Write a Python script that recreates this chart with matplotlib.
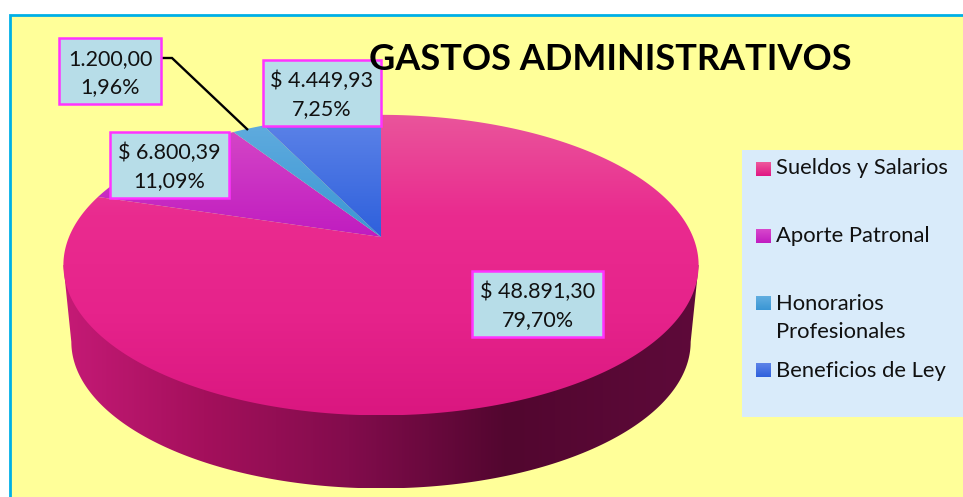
import numpy as np
import matplotlib
matplotlib.use("Agg")
import matplotlib.pyplot as plt
from matplotlib.patches import Polygon, Rectangle
from matplotlib.colors import LinearSegmentedColormap

# ---- data ----
categories = ["Sueldos y Salarios", "Aporte Patronal", "Honorarios\nProfesionales", "Beneficios de Ley"]
values = [48891.30, 6800.39, 1200.00, 4449.93]
value_labels = ["$ 48.891,30", "$ 6.800,39", "1.200,00", "$ 4.449,93"]
percent_labels = ["79,70%", "11,09%", "1,96%", "7,25%"]
title = "GASTOS ADMINISTRATIVOS"

# ---- styles ----
slice_grads = [["#e9559b", "#ea2b8f", "#e6238b", "#da1780"],
               ["#d445c6", "#c01cc0"],
               ["#5fabde", "#3a96d4"],
               ["#5e84e8", "#2e60dc"]]
swatch_grads = [["#ee5a9c", "#e01584"], ["#d848cc", "#c01cc0"],
                ["#62aee0", "#3a96d4"], ["#5e84e8", "#2e60dc"]]
side_stops = [(0.0, "#c51a76"), (0.22, "#a4105c"), (0.45, "#820c4c"),
              (0.70, "#52062f"), (1.0, "#5e0a3a")]
label_boxes = [(472, 271, 603, 337), (110, 132, 229, 198), (59, 38, 161, 104), (263, 60, 381, 126)]
legend_rows = [(168, 169), (236, 236), (317.5, 303), (371, 370)]

W, H = 963, 497
fig = plt.figure(figsize=(W / 100, H / 100), dpi=100, facecolor="white")
ax = fig.add_axes([0, 0, 1, 1])
ax.axis("off")

FONT = "Lato"
k, a, b = 0.187, 312.0, 145.0
cx, cy = 381.0, 237.0


def project(theta, scale=1.0, dy=0.0):
    """theta measured clockwise from 12 o'clock on the disc."""
    u, v = np.sin(theta), np.cos(theta)
    d = 1 + k * v
    return cx + scale * a * u / d, cy + dy - scale * b * v / d


def grad_fill(verts, colors, horizontal=False, z=2):
    xs, ys = np.asarray(verts).T
    extent = (xs.min(), xs.max(), ys.max(), ys.min())
    cmap = LinearSegmentedColormap.from_list("g", colors)
    g = np.linspace(0, 1, 256)
    g = g[None, :] if horizontal else g[:, None]
    im = ax.imshow(g, cmap=cmap, extent=extent, aspect="auto", zorder=z,
                   origin="upper", interpolation="bilinear", vmin=0, vmax=1)
    p = Polygon(verts, closed=True, transform=ax.transData, fc="none", ec="none")
    ax.add_patch(p)
    im.set_clip_path(p)


# background
ax.add_patch(Rectangle((10, 15), W, H, fc="#ffff99", ec="#00b0e6", lw=2.0, zorder=1))

# pie side
s2, dy2 = 0.975, 77.5
t_ext = np.arccos(-k)                     # angle at widest point of the rim
tt = np.linspace(t_ext, 2 * np.pi - t_ext, 300)
bx, by = project(tt, s2, dy2)
rx0, ry0 = project(t_ext)
lx0, ly0 = project(2 * np.pi - t_ext)
side = list(zip(bx, by)) + [(lx0, ly0), (rx0, ry0)]
grad_fill(side, side_stops, horizontal=True, z=2)

# pie top, slices clockwise from 12 o'clock
fractions = np.array(values) / np.sum(values)
edges = np.concatenate([[0], np.cumsum(fractions)]) * 2 * np.pi
for i in range(len(values)):
    t = np.linspace(edges[i], edges[i + 1], max(int(fractions[i] * 400), 6))
    x, y = project(t)
    verts = [(cx, cy)] + list(zip(x, y))
    grad_fill(verts, slice_grads[i], z=3)

# leader line
ax.plot([162, 172, 248], [58, 58, 130], color="black", lw=1.7, zorder=5,
        solid_joinstyle="miter", solid_capstyle="butt")

# data labels
for (x0, y0, x1, y1), v, p in zip(label_boxes, value_labels, percent_labels):
    ax.add_patch(Rectangle((x0, y0), x1 - x0, y1 - y0, fc="#b7dde8", ec="#ff33ff",
                           lw=1.8, zorder=6))
    xc = (x0 + x1) / 2
    ax.text(xc, y0 + 21, v, ha="center", va="center", fontsize=15.5, family=FONT,
            color="#111111", zorder=7)
    ax.text(xc, y0 + 49.5, p, ha="center", va="center", fontsize=15.5, family=FONT,
            color="#111111", zorder=7)

# legend
ax.add_patch(Rectangle((742, 150), W - 742, 267, fc="#d9ebfa", ec="none", zorder=2))
for cat, (ty, sy), colors in zip(categories, legend_rows, swatch_grads):
    verts = [(756, sy - 7), (771, sy - 7), (771, sy + 7), (756, sy + 7)]
    grad_fill(verts, colors, z=3)
    ax.text(776, ty, cat, ha="left", va="center", fontsize=15.8, family=FONT,
            color="#111111", linespacing=1.5, zorder=4)

# title
ax.text(610, 60, title, ha="center", va="center", fontsize=26, fontweight="bold",
        family=FONT, color="black", zorder=8)

ax.set_xlim(0, W)
ax.set_ylim(H, 0)
fig.savefig("out.png", dpi=100, facecolor="white")
